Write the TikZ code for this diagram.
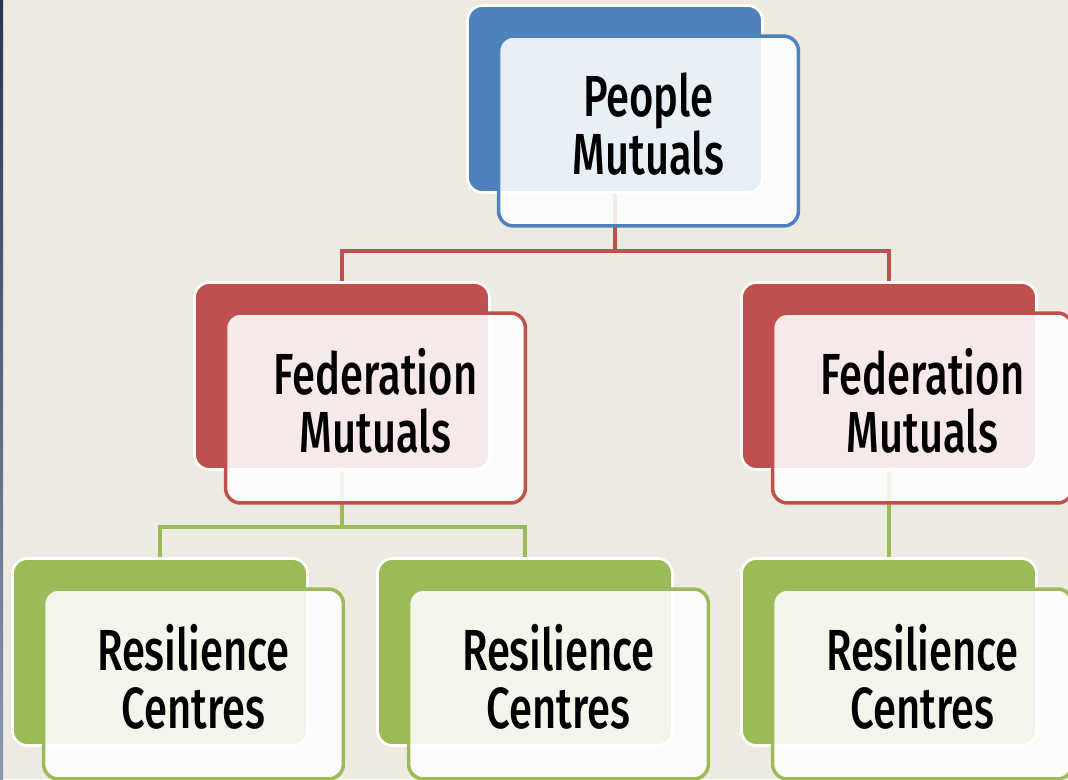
\documentclass[tikz,border=0pt]{standalone}
\usepackage{fontspec}
\setmainfont{Fira Sans}[UprightFont=* Medium, FakeStretch=0.72]
\usepackage{xcolor}
\usepackage{tikz}
\usetikzlibrary{positioning}

\definecolor{pageback}{HTML}{EDEBE1}
\definecolor{edgetop}{HTML}{26344F}
\definecolor{edgebottom}{HTML}{8C9AAC}
\definecolor{mutualblue}{HTML}{4F81BD}
\definecolor{mutualred}{HTML}{C0504D}
\definecolor{mutualgreen}{HTML}{9BBB59}

\pgfdeclarelayer{background}
\pgfsetlayers{background,main}

\tikzset{
  backbox/.style={rectangle, rounded corners=0.3cm, fill=#1, draw=white,
    line width=1.5pt, minimum width=5.9cm, minimum height=3.74cm},
  frontbox/.style={rectangle, rounded corners=0.3cm, fill=white,
    fill opacity=0.88, draw=#1, line width=2pt,
    minimum width=6cm, minimum height=3.8cm,
    xshift=0.67cm, yshift=-0.64cm},
  boxtext/.style={align=center, yshift=0.14cm,
    font=\fontsize{33}{33}\selectfont},
  link/.style={draw=#1, line width=2.2pt}
}

\begin{document}
\begin{tikzpicture}[x=0.02cm, y=-0.02cm]
\useasboundingbox (0,0) rectangle (1068,779);

% Page
\begin{pgfonlayer}{background}
\fill[pageback] (0,0) rectangle (1068,779);
\shade[top color=edgetop, bottom color=edgebottom] (0,0) rectangle (3,779);
\end{pgfonlayer}

% Back boxes
\node[backbox=mutualblue] (pmb) at (615,99) {};
\node[backbox=mutualred] (flb) at (342,376) {};
\node[backbox=mutualred] (frb) at (889,376) {};
\node[backbox=mutualgreen] (glb) at (160,652) {};
\node[backbox=mutualgreen] (gmb) at (525,652) {};
\node[backbox=mutualgreen] (grb) at (889,652) {};

% Connectors
\begin{pgfonlayer}{background}
\draw[link=mutualred] (flb.north) -- ++(0,-30) -| (pmb.south);
\draw[link=mutualred] (frb.north) -- ++(0,-30) -| (pmb.south);
\draw[link=mutualgreen] (glb.north) -- ++(0,-30) -| (flb.south);
\draw[link=mutualgreen] (gmb.north) -- ++(0,-30) -| (flb.south);
\draw[link=mutualgreen] (grb.north) -- (frb.south);
\end{pgfonlayer}

% Front boxes
\node[frontbox=mutualblue] (pm) at (pmb) {};
\node[frontbox=mutualred] (fl) at (flb) {};
\node[frontbox=mutualred] (fr) at (frb) {};
\node[frontbox=mutualgreen] (gl) at (glb) {};
\node[frontbox=mutualgreen] (gm) at (gmb) {};
\node[frontbox=mutualgreen] (gr) at (grb) {};

% Labels
\node[boxtext] (pmtext) at (pm) {People\\Mutuals};
\node[boxtext] (fltext) at (fl) {Federation\\Mutuals};
\node[boxtext] (frtext) at (fr) {Federation\\Mutuals};
\node[boxtext] (gltext) at (gl) {Resilience\\Centres};
\node[boxtext] (gmtext) at (gm) {Resilience\\Centres};
\node[boxtext] (grtext) at (gr) {Resilience\\Centres};
\end{tikzpicture}
\end{document}
